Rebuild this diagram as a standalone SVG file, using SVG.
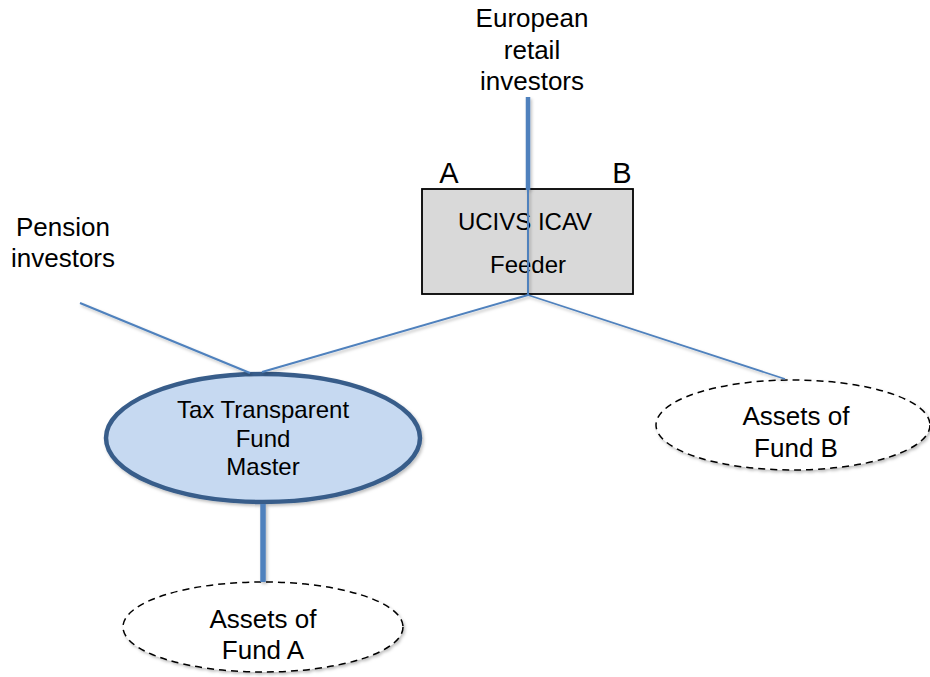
<svg xmlns="http://www.w3.org/2000/svg" width="930" height="677" viewBox="0 0 930 677">
  <defs>
    <filter id="sh" x="-20%" y="-20%" width="140%" height="140%">
      <feDropShadow dx="1.5" dy="2" stdDeviation="1.5" flood-color="#000" flood-opacity="0.25"/>
    </filter>
  </defs>
  <style>
    text { font-family: "Liberation Sans", Arial, sans-serif; fill: #000; text-anchor: middle; }
    .big { font-size: 26px; }
    .mid { font-size: 24px; }
    .ab { font-size: 29px; }
    .ln { stroke: #4f81bd; fill: none; stroke-linecap: butt; }
    .dash { fill: #fff; stroke: #000; stroke-width: 1.5; stroke-dasharray: 7 5; }
  </style>
  <rect width="930" height="677" fill="#fff"/>

  <g id="feeder">
    <rect x="422" y="189" width="211" height="105" fill="#d9d9d9" stroke="#000" stroke-width="1.8"/>
    <text class="mid" x="525" y="230">UCIVS ICAV</text>
    <text class="mid" x="528" y="273">Feeder</text>
    <text class="ab" x="449" y="183">A</text>
    <text class="ab" x="622" y="183">B</text>
  </g>

  <g id="master">
    <ellipse cx="263" cy="438" rx="157" ry="64" fill="#c6d9f1" stroke="#385d8a" stroke-width="4.5" filter="url(#sh)"/>
    <text class="mid" x="263" y="418">Tax Transparent</text>
    <text class="mid" x="263" y="447">Fund</text>
    <text class="mid" x="263" y="475">Master</text>
  </g>

  <g id="fundA">
    <ellipse class="dash" cx="263" cy="627" rx="140" ry="45" filter="url(#sh)"/>
    <text class="big" x="263" y="628">Assets of</text>
    <text class="big" x="263" y="659">Fund A</text>
  </g>

  <g id="fundB">
    <ellipse class="dash" cx="793" cy="425" rx="137" ry="45" filter="url(#sh)"/>
    <text class="big" x="796" y="425">Assets of</text>
    <text class="big" x="796" y="457">Fund B</text>
  </g>

  <g id="european">
    <text class="big" x="532" y="27">European</text>
    <text class="big" x="532" y="59">retail</text>
    <text class="big" x="532" y="90">investors</text>
  </g>

  <g id="pension">
    <text class="big" x="63" y="236">Pension</text>
    <text class="big" x="63" y="267">investors</text>
  </g>

  <g id="connectors" filter="url(#sh)">
    <line class="ln" x1="528" y1="97" x2="528" y2="190" stroke-width="4.5"/>
    <line class="ln" x1="528" y1="189" x2="528" y2="295" stroke-width="2"/>
    <line class="ln" x1="528" y1="295" x2="262" y2="372" stroke-width="2"/>
    <line class="ln" x1="528" y1="295" x2="785" y2="379" stroke-width="1.8"/>
    <line class="ln" x1="80" y1="303" x2="250" y2="373" stroke-width="2"/>
    <line class="ln" x1="263" y1="504" x2="263" y2="582" stroke-width="5.5"/>
  </g>
</svg>
